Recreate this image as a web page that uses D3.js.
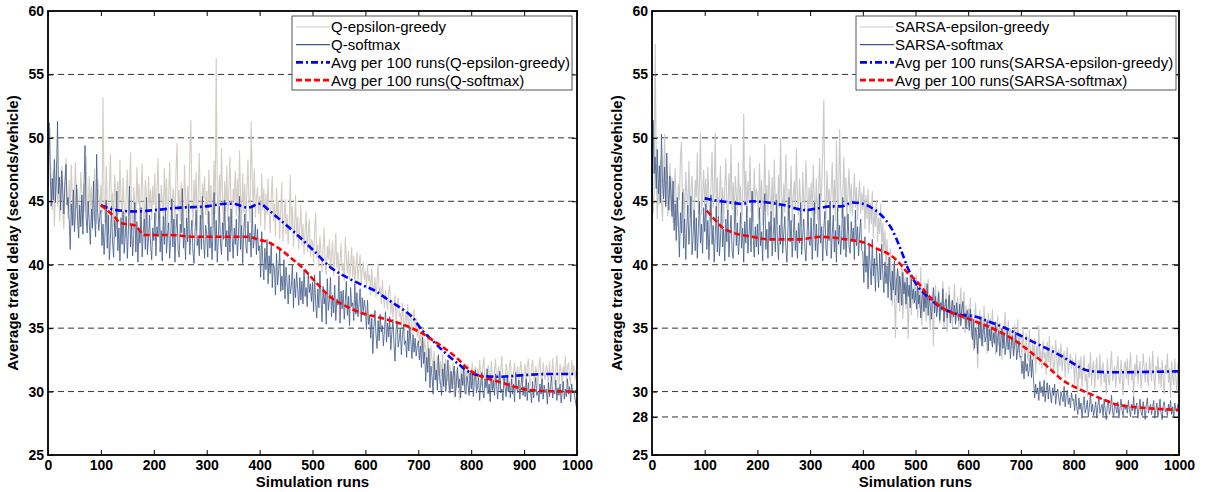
<!DOCTYPE html>
<html>
<head>
<meta charset="utf-8">
<script src="https://cdn.jsdelivr.net/npm/d3@7"></script>
<style>
  body { margin: 0; background: #fff; }
  svg { display: block; font-family: Arial, "Liberation Sans", sans-serif; }
</style>
</head>
<body>
<svg id="chart" width="1208" height="492"></svg>
<script>
// Runs sampled every 2 simulation runs (0..1000).
const runs = d3.range(0, 1001, 2);

// Left panel: Q-learning.
const qEpsGreedy = [
  47.2, 49.0, 50.8, 46.1, 44.3, 47.5, 43.0, 45.8, 48.2, 44.6, 46.9, 43.4, 45.1, 47.8, 44.0, 42.8, 46.3, 48.4, 45.0, 43.6,
  46.7, 44.2, 47.9, 45.4, 43.1, 45.9, 48.1, 44.5, 46.0, 42.9, 44.8, 47.3, 45.6, 43.5, 46.4, 44.1, 48.6, 45.2, 43.8, 47.0,
  44.4, 46.2, 42.7, 45.3, 47.6, 44.9, 43.2, 46.8, 45.5, 44.0,
  46.3, 44.1, 53.2, 45.0, 43.3, 47.8, 44.6, 42.5, 46.0, 48.7, 44.2, 45.7, 43.0, 47.1, 45.3, 42.8, 46.6, 44.0, 48.3, 45.1,
  43.6, 46.9, 44.4, 42.2, 45.8, 47.5, 43.9, 45.2, 48.9, 44.3, 42.7, 46.1, 45.0, 43.4, 47.7, 44.8, 46.4, 42.9, 45.6, 48.0,
  44.1, 43.2, 46.7, 45.4, 42.6, 47.0, 44.5, 45.9, 43.5, 46.2,
  44.7, 47.2, 43.1, 45.5, 48.4, 44.0, 42.5, 46.3, 45.1, 43.7, 47.6, 44.4, 46.8, 42.9, 45.2, 48.1, 44.6, 43.3, 46.0, 45.7,
  42.8, 47.4, 49.6, 44.2, 45.9, 43.4, 46.5, 44.9, 42.6, 47.9, 45.3, 43.8, 46.2, 44.1, 48.6, 51.4, 45.0, 43.0, 46.7, 44.3,
  47.3, 42.7, 45.6, 48.8, 44.5, 43.6, 46.4, 45.2, 47.0, 43.9,
  45.8, 43.2, 47.5, 44.6, 46.3, 42.9, 45.1, 48.2, 44.0, 56.3, 45.6, 43.5, 47.1, 44.8, 49.2, 45.3, 42.8, 46.6, 44.2, 47.8,
  43.4, 45.9, 48.5, 44.7, 42.6, 46.0, 45.0, 47.4, 43.8, 46.8, 44.3, 49.0, 45.5, 43.1, 47.2, 44.1, 46.4, 42.9, 45.7, 48.3,
  44.6, 43.3, 51.3, 46.9, 44.5, 47.6, 43.7, 45.2, 46.1, 44.0,
  45.4, 43.1, 47.2, 44.3, 46.0, 42.7, 45.6, 43.9, 46.8, 44.1, 42.5, 45.3, 47.0, 43.4, 44.8, 42.2, 46.1, 43.7, 45.0, 42.0,
  44.4, 46.5, 41.8, 43.6, 45.2, 42.4, 44.0, 41.6, 43.3, 47.1, 42.8, 44.6, 41.4, 43.0, 45.5, 42.1, 43.8, 41.2, 42.9, 44.7,
  41.5, 43.2, 40.8, 42.6, 44.2, 41.0, 42.4, 43.6, 40.6, 42.0,
  41.8, 40.2, 42.7, 44.1, 40.5, 41.6, 39.8, 42.3, 40.9, 39.4, 41.2, 42.9, 40.0, 39.2, 41.5, 40.4, 42.0, 39.6, 40.8, 41.9,
  39.1, 40.6, 42.5, 39.7, 41.0, 38.9, 40.3, 41.7, 39.5, 40.1, 38.7, 42.2, 40.5, 39.3, 41.1, 38.8, 40.0, 41.4, 39.0, 40.7,
  38.5, 39.8, 41.0, 38.6, 39.9, 40.8, 38.4, 39.6, 40.2, 38.8,
  39.5, 38.1, 40.0, 38.7, 39.2, 37.6, 39.7, 38.3, 37.9, 39.0, 37.4, 38.6, 40.1, 37.8, 38.2, 36.9, 38.8, 37.5, 36.6, 38.0,
  37.2, 36.4, 37.9, 38.4, 36.1, 37.3, 35.8, 36.9, 37.6, 35.5, 36.7, 37.4, 35.9, 36.2, 35.1, 37.0, 35.6, 34.8, 36.3, 35.4,
  36.9, 34.6, 35.7, 36.1, 34.5, 35.3, 36.5, 34.9, 35.8, 34.3,
  35.2, 33.8, 34.6, 33.1, 35.0, 32.7, 34.1, 33.4, 32.2, 34.4, 33.0, 31.8, 33.6, 32.5, 31.5, 33.2, 32.0, 30.9, 32.8, 31.7,
  30.6, 32.4, 31.2, 33.0, 30.3, 31.9, 32.6, 30.8, 31.4, 29.9, 32.1, 31.0, 30.5, 32.3, 29.5, 31.6, 30.2, 31.8, 30.7, 29.3,
  31.3, 32.0, 30.4, 31.1, 29.8, 31.7, 30.9, 32.2, 30.6, 31.5,
  31.0, 32.3, 30.5, 31.6, 32.0, 30.2, 31.8, 30.9, 32.5, 31.2, 30.4, 31.9, 32.7, 30.8, 31.3, 29.9, 32.1, 31.5, 30.6, 32.4,
  31.1, 30.3, 31.7, 32.6, 30.7, 31.4, 32.0, 30.1, 31.8, 32.8, 30.9, 31.2, 30.5, 32.2, 31.6, 30.0, 31.9, 32.5, 31.0, 30.6,
  31.5, 32.3, 30.8, 31.4, 32.0, 30.3, 31.7, 32.4, 31.1, 30.7,
  31.6, 32.2, 30.5, 31.9, 32.6, 31.0, 30.4, 31.8, 32.5, 31.3, 30.7, 32.0, 31.5, 30.2, 31.9, 32.7, 31.1, 30.6, 32.3, 31.4,
  30.9, 32.1, 31.7, 30.3, 32.4, 31.2, 30.8, 32.6, 31.5, 30.5, 31.8, 32.9, 31.0, 30.6, 32.2, 31.6, 30.4, 32.0, 31.3, 32.8,
  30.7, 31.9, 32.3, 31.1, 30.5, 32.5, 31.4, 32.1, 30.9, 31.7,
  31.2
];
const qSoftmax = [
  46.2, 51.2, 47.5, 44.6, 46.8, 45.1, 48.3, 44.9, 47.0, 51.3, 45.6, 46.9, 44.3, 47.4, 45.8, 44.0, 46.5, 47.9, 44.7, 45.3,
  43.6, 41.2, 44.8, 43.1, 45.9, 42.6, 44.2, 46.3, 43.4, 42.1, 44.7, 43.0, 45.5, 42.4, 46.1, 49.4, 43.8, 42.5, 45.0, 43.3,
  41.6, 44.4, 42.9, 46.6, 43.7, 42.2, 48.7, 44.1, 42.7, 43.9,
  44.3, 41.5, 43.2, 40.8, 42.6, 45.1, 41.3, 43.9, 40.4, 42.0, 44.6, 41.8, 40.6, 43.5, 42.2, 45.8, 41.1, 42.9, 40.3, 43.7,
  41.6, 44.2, 40.9, 42.4, 43.8, 40.5, 42.7, 46.2, 41.4, 43.1, 40.7, 42.3, 44.9, 41.0, 43.4, 40.2, 42.8, 41.7, 44.5, 40.6,
  42.5, 43.6, 41.2, 45.3, 40.8, 42.1, 43.9, 41.5, 40.4, 42.9,
  41.9, 44.1, 40.7, 43.0, 42.2, 45.6, 41.0, 42.7, 40.3, 43.8, 41.6, 44.5, 40.9, 42.4, 43.3, 40.5, 42.0, 45.2, 41.4, 43.6,
  40.2, 42.8, 44.0, 41.1, 40.6, 43.2, 42.5, 46.0, 41.3, 42.9, 40.4, 43.7, 41.8, 44.8, 40.8, 42.3, 43.5, 41.0, 40.1, 42.6,
  44.3, 41.5, 42.1, 40.7, 43.9, 41.2, 45.4, 42.0, 40.5, 43.1,
  42.4, 40.6, 44.2, 41.3, 43.0, 40.4, 42.8, 45.7, 41.1, 43.5, 40.2, 42.1, 44.6, 41.7, 40.8, 43.3, 42.0, 45.1, 41.4, 42.7,
  40.3, 43.8, 41.0, 44.4, 42.3, 40.5, 42.9, 41.6, 43.6, 40.7, 42.2, 45.4, 41.2, 43.1, 40.1, 42.6, 44.0, 41.5, 40.9, 43.4,
  41.8, 42.5, 40.6, 44.7, 41.3, 42.0, 43.2, 40.8, 42.8, 41.1,
  41.5, 39.0, 42.6, 40.2, 38.8, 41.3, 39.6, 42.0, 38.5, 40.7, 39.3, 41.8, 38.2, 40.1, 39.7, 37.6, 40.9, 38.4, 39.5, 41.2,
  37.9, 39.1, 38.0, 40.4, 37.3, 39.8, 38.6, 36.9, 39.2, 37.7, 38.3, 40.0, 36.6, 38.9, 37.4, 39.4, 38.1, 36.8, 39.0, 37.2,
  38.7, 36.9, 39.6, 37.5, 38.2, 36.7, 39.3, 37.8, 38.5, 37.1,
  38.6, 36.3, 39.2, 37.0, 35.8, 38.1, 36.6, 39.5, 37.4, 35.5, 38.3, 36.9, 37.7, 35.3, 38.9, 36.4, 37.2, 39.0, 35.9, 37.6,
  36.2, 38.4, 35.6, 37.3, 36.8, 39.1, 35.4, 37.9, 36.5, 38.0, 35.7, 37.1, 38.7, 36.0, 37.5, 35.2, 38.2, 36.7, 37.0, 35.6,
  38.5, 36.1, 37.8, 35.9, 36.9, 38.1, 35.5, 37.4, 36.3, 37.2,
  36.5, 34.9, 37.2, 35.3, 36.0, 34.2, 35.8, 33.0, 35.1, 36.4, 34.5, 33.4, 35.6, 34.0, 36.1, 34.7, 35.2, 33.6, 34.8, 36.3,
  33.9, 35.4, 34.3, 35.9, 33.3, 34.6, 35.7, 33.8, 32.4, 34.9, 35.5, 33.5, 34.1, 35.0, 32.9, 34.4, 35.3, 33.7, 34.0, 32.7,
  34.8, 33.2, 35.1, 33.9, 32.6, 34.5, 33.1, 34.2, 32.8, 33.6,
  34.0, 32.5, 33.6, 31.9, 34.3, 32.2, 33.1, 30.8, 32.7, 31.5, 33.4, 30.3, 32.0, 31.2, 29.8, 32.4, 30.9, 31.7, 30.1, 32.9,
  31.4, 30.6, 29.7, 31.8, 30.4, 32.2, 30.0, 31.1, 32.5, 30.7, 29.9, 31.6, 30.2, 31.3, 32.0, 29.6, 30.8, 31.9, 30.3, 31.0,
  29.5, 31.4, 30.5, 32.1, 30.1, 29.8, 31.2, 30.6, 29.7, 31.5,
  30.2, 31.3, 29.6, 30.8, 31.7, 29.9, 30.4, 31.1, 29.3, 30.7, 31.5, 30.0, 29.5, 31.0, 30.3, 31.8, 29.8, 30.6, 29.2, 31.2,
  30.1, 30.9, 29.7, 31.4, 30.5, 29.4, 30.8, 31.6, 29.9, 30.2, 29.3, 31.1, 30.4, 29.6, 31.3, 30.0, 30.7, 29.5, 31.0, 29.8,
  30.6, 29.2, 31.5, 30.3, 29.9, 30.9, 29.4, 30.5, 31.2, 29.7,
  30.4, 29.6, 31.0, 29.3, 30.7, 29.9, 30.2, 29.1, 30.8, 29.5, 30.3, 31.1, 29.7, 30.0, 29.2, 30.6, 29.8, 31.0, 29.4, 30.5,
  29.9, 30.2, 29.0, 30.7, 29.6, 30.4, 31.2, 29.5, 30.1, 29.8, 30.9, 29.3, 30.3, 29.7, 30.6, 29.1, 30.0, 30.8, 29.4, 30.2,
  29.6, 31.0, 29.8, 30.4, 29.2, 30.6, 29.9, 30.1, 29.5, 29.0,
  28.5
];
// [run, value] points of the 100-run moving averages.
const qEpsAvg = [
  [100, 44.7], [130, 44.3], [165, 44.2], [200, 44.3], [250, 44.5], [300, 44.6], [335, 44.8], [350, 44.8],
  [378, 44.5], [400, 44.8], [420, 44.2], [440, 43.5], [470, 42.4], [500, 41.2], [537, 39.7], [565, 39.0],
  [594, 38.4], [620, 37.9], [644, 37.2], [670, 36.5], [688, 35.9], [707, 34.85], [730, 33.9], [751, 33.04],
  [775, 32.2], [801, 31.44], [830, 31.2], [852, 31.17], [900, 31.3], [940, 31.38], [1000, 31.38]
];
const qSoftAvg = [
  [100, 44.7], [120, 44.0], [139, 43.26], [164, 43.1], [183, 42.34], [233, 42.34], [277, 42.2], [320, 42.2],
  [378, 42.2], [397, 42.0], [420, 41.7], [441, 41.16], [460, 40.5], [479, 39.85], [500, 38.9], [537, 37.35],
  [565, 36.7], [594, 36.17], [620, 35.9], [644, 35.64], [670, 35.3], [688, 34.99], [707, 34.6], [726, 34.07],
  [750, 33.4], [770, 32.75], [801, 31.57], [825, 31.1], [852, 30.78], [880, 30.4], [909, 30.13], [950, 30.03],
  [1000, 30.0]
];

// Right panel: SARSA.
const sEpsGreedy = [
  46.8, 44.0, 45.5, 57.4, 47.9, 43.6, 46.2, 44.8, 48.3, 45.0, 43.4, 47.1, 50.3, 44.5, 46.6, 43.8, 45.7, 48.0, 44.2, 46.9,
  43.3, 45.2, 47.6, 44.7, 43.0, 46.4, 45.1, 48.5, 49.7, 44.3, 46.0, 43.5, 47.3, 45.6, 44.1, 48.2, 43.7, 45.9, 47.0, 44.4,
  43.2, 46.7, 45.3, 48.8, 44.0, 46.1, 50.4, 43.9, 45.4, 47.5,
  44.6, 46.8, 43.8, 47.7, 45.2, 43.4, 46.3, 48.9, 44.5, 45.7, 50.4, 44.0, 46.9, 43.6, 45.4, 47.8, 44.2, 46.1, 43.3, 45.9,
  48.4, 44.7, 43.9, 47.2, 45.0, 49.5, 44.3, 46.5, 43.5, 47.0, 45.6, 43.8, 48.1, 44.9, 46.2, 43.2, 45.3, 51.9, 44.6, 47.4,
  43.7, 46.6, 45.1, 48.6, 44.1, 45.8, 43.4, 47.6, 44.8, 46.0,
  45.5, 43.6, 48.0, 44.4, 46.7, 43.1, 45.0, 49.5, 44.2, 46.3, 43.8, 47.5, 45.2, 44.0, 46.9, 43.4, 48.3, 44.7, 45.6, 43.2,
  47.1, 44.5, 50.0, 45.3, 43.7, 46.4, 44.1, 48.7, 45.8, 43.5, 46.0, 44.8, 47.8, 43.3, 45.4, 46.6, 44.3, 49.1, 45.0, 43.9,
  46.8, 44.6, 43.0, 47.3, 45.1, 44.2, 48.2, 45.7, 43.6, 46.1,
  44.4, 46.5, 43.8, 47.9, 45.2, 44.0, 46.8, 43.5, 45.6, 48.4, 44.7, 46.2, 49.0, 53.0, 45.3, 43.6, 47.4, 44.8, 46.0, 43.9,
  45.8, 48.1, 44.3, 46.7, 43.4, 49.8, 45.1, 44.2, 50.7, 46.3, 43.7, 45.5, 48.5, 44.6, 46.9, 43.2, 45.9, 47.6, 44.1, 46.4,
  43.8, 45.0, 47.2, 44.5, 46.1, 43.5, 45.4, 46.6, 44.0, 45.7,
  44.3, 46.2, 42.8, 45.5, 43.6, 46.0, 42.5, 44.9, 43.2, 45.8, 42.1, 44.4, 43.0, 45.1, 41.8, 43.7, 42.4, 44.8, 41.5, 43.3,
  40.9, 42.7, 39.8, 42.0, 40.4, 38.6, 41.3, 39.2, 36.8, 40.0, 37.5, 34.2, 38.9, 37.0, 39.5, 36.3, 38.2, 40.1, 35.7, 37.8,
  39.0, 36.5, 38.4, 34.1, 37.2, 39.3, 36.0, 38.0, 36.9, 38.7,
  37.4, 39.2, 35.8, 38.1, 36.6, 39.8, 35.2, 37.7, 36.3, 38.6, 35.5, 37.0, 38.9, 36.1, 34.8, 37.6, 36.9, 33.6, 37.3, 38.4,
  35.9, 36.8, 38.0, 35.3, 37.1, 36.4, 38.7, 35.0, 36.2, 37.8, 34.7, 36.9, 38.3, 35.6, 37.2, 35.1, 36.7, 38.5, 35.4, 36.0,
  37.5, 34.9, 36.6, 38.2, 35.7, 36.3, 37.9, 34.6, 36.8, 35.2,
  36.6, 35.0, 37.4, 34.3, 36.1, 33.2, 35.7, 37.0, 34.6, 31.8, 35.3, 36.4, 34.0, 35.9, 33.5, 36.8, 34.9, 35.5, 33.0, 36.2,
  34.4, 35.8, 33.7, 36.5, 34.1, 35.2, 32.9, 34.8, 36.0, 33.6, 35.4, 34.2, 32.5, 35.1, 33.9, 36.3, 34.5, 33.3, 35.6, 34.0,
  35.0, 33.4, 34.7, 32.8, 35.3, 34.1, 33.5, 35.7, 33.1, 34.6,
  34.3, 32.7, 35.0, 33.5, 31.9, 34.6, 33.0, 32.4, 34.9, 33.2, 31.6, 33.8, 32.5, 34.2, 31.4, 33.6, 32.8, 35.2, 32.1, 33.3,
  31.8, 34.0, 32.6, 33.1, 31.3, 33.9, 32.3, 34.4, 31.7, 32.9, 33.6, 31.5, 32.2, 34.1, 32.7, 31.2, 33.4, 32.0, 33.8, 31.6,
  32.5, 33.2, 31.1, 32.8, 33.5, 31.4, 32.3, 33.0, 31.8, 32.6,
  32.1, 30.6, 33.0, 31.3, 29.9, 32.5, 31.0, 32.8, 30.3, 31.7, 32.9, 30.8, 31.4, 29.6, 32.2, 31.1, 33.1, 30.5, 31.8, 32.4,
  30.2, 31.6, 32.7, 30.9, 31.2, 33.0, 30.4, 31.9, 32.3, 30.7, 31.5, 29.8, 32.6, 31.0, 30.5, 32.1, 33.2, 30.8, 31.4, 32.0,
  30.3, 31.7, 32.8, 31.1, 30.6, 32.5, 31.3, 29.7, 31.9, 32.4,
  31.0, 32.6, 30.5, 31.8, 33.1, 30.9, 31.5, 29.6, 32.2, 31.2, 32.9, 30.6, 31.7, 32.4, 30.2, 31.3, 33.0, 31.9, 30.7, 32.3,
  31.1, 30.4, 32.7, 31.6, 30.8, 33.2, 31.4, 30.1, 32.0, 31.5, 32.8, 30.6, 31.9, 30.3, 32.5, 31.0, 29.8, 32.1, 31.4, 33.0,
  30.7, 31.8, 29.5, 32.4, 31.2, 30.5, 32.6, 31.1, 29.9, 32.3,
  30.6
];
const sSoftmax = [
  45.0, 51.4, 47.2, 48.5, 46.0, 49.1, 45.6, 47.8, 44.9, 50.3, 46.4, 45.2, 47.7, 44.6, 48.8, 46.1, 44.3, 47.0, 45.5, 43.8,
  46.6, 42.7, 44.8, 41.9, 45.3, 43.4, 40.6, 44.1, 42.5, 45.7, 41.3, 43.6, 40.4, 42.9, 44.7, 41.6, 43.0, 45.4, 40.8, 42.2,
  44.3, 41.1, 43.7, 40.5, 42.8, 45.0, 41.7, 43.2, 40.9, 44.5,
  42.6, 44.8, 41.2, 43.5, 40.4, 42.9, 45.5, 41.6, 43.1, 40.2, 42.3, 44.6, 41.0, 43.8, 40.7, 42.1, 45.2, 41.4, 42.8, 40.3,
  43.6, 41.8, 44.3, 40.6, 42.5, 43.9, 41.1, 40.5, 42.7, 45.0, 41.5, 43.3, 40.8, 42.0, 44.1, 41.3, 42.9, 40.2, 43.4, 41.7,
  44.6, 40.9, 42.4, 43.7, 41.0, 45.8, 42.2, 40.6, 43.0, 41.4,
  43.2, 40.8, 44.5, 41.5, 42.6, 40.3, 43.9, 45.6, 41.2, 42.8, 40.5, 43.4, 41.9, 44.2, 40.7, 42.3, 43.7, 41.0, 45.1, 42.0,
  40.4, 43.1, 41.6, 44.7, 40.9, 42.5, 43.8, 41.3, 40.2, 42.9, 45.3, 41.8, 43.5, 40.6, 42.2, 44.0, 41.1, 42.7, 40.5, 43.3,
  41.7, 44.9, 40.8, 42.4, 43.6, 41.4, 40.3, 42.1, 44.4, 41.9,
  41.5, 43.7, 40.4, 42.6, 44.9, 41.1, 43.2, 40.6, 42.0, 45.6, 41.7, 43.0, 40.3, 42.8, 44.2, 41.3, 40.7, 43.5, 41.9, 45.0,
  40.5, 42.4, 43.9, 41.0, 42.7, 40.2, 44.5, 41.6, 43.1, 40.8, 42.3, 45.3, 41.2, 43.8, 40.6, 42.1, 44.0, 41.4, 40.9, 43.4,
  41.8, 42.9, 40.4, 44.3, 41.5, 43.0, 40.7, 42.5, 43.6, 41.1,
  41.0, 38.6, 42.2, 39.4, 40.7, 38.1, 41.5, 39.8, 38.4, 42.0, 39.1, 40.5, 37.9, 41.2, 39.6, 38.2, 40.9, 38.8, 41.6, 39.3,
  37.8, 40.2, 38.5, 39.9, 37.4, 40.6, 38.9, 37.2, 39.5, 38.0, 40.3, 37.6, 38.7, 39.7, 37.0, 39.1, 38.3, 36.8, 39.4, 37.7,
  38.6, 36.9, 39.0, 37.5, 38.4, 36.6, 38.9, 37.3, 38.1, 37.0,
  37.9, 36.5, 38.3, 36.9, 37.6, 35.8, 37.2, 38.0, 36.3, 37.7, 36.6, 38.5, 36.0, 37.4, 36.8, 35.7, 37.1, 38.2, 36.2, 37.5,
  35.9, 36.7, 37.8, 35.6, 37.0, 36.4, 38.1, 35.5, 36.9, 37.3, 35.8, 36.6, 37.6, 35.4, 36.3, 37.2, 35.9, 36.8, 35.3, 37.0,
  36.1, 35.6, 36.9, 35.2, 36.5, 37.1, 35.7, 36.2, 35.0, 36.4,
  36.0, 34.8, 36.5, 35.2, 34.1, 35.7, 33.4, 35.0, 34.5, 33.0, 35.4, 34.2, 35.9, 33.6, 34.7, 35.3, 33.9, 34.4, 35.6, 33.2,
  34.9, 34.0, 35.1, 33.5, 34.6, 33.8, 35.5, 33.1, 34.3, 34.8, 32.8, 34.1, 35.0, 33.4, 34.5, 32.9, 33.7, 34.9, 33.3, 34.2,
  32.6, 33.9, 34.4, 32.8, 33.6, 34.7, 32.5, 33.3, 34.0, 32.7,
  32.8, 31.4, 32.4, 31.0, 33.0, 31.6, 32.2, 31.2, 31.8, 32.9, 31.1, 32.5, 30.9, 29.5, 30.6, 29.8, 30.3, 29.3, 30.8, 29.9,
  30.4, 29.6, 30.9, 29.2, 30.1, 30.7, 29.4, 30.5, 29.8, 29.1, 30.3, 29.7, 30.6, 29.0, 29.9, 30.2, 29.4, 28.9, 30.0, 29.6,
  29.2, 30.4, 28.8, 29.7, 30.1, 29.0, 29.5, 28.7, 29.9, 29.3,
  29.4, 28.5, 29.8, 28.8, 28.2, 29.5, 28.6, 29.1, 27.9, 28.9, 29.6, 28.3, 28.7, 29.3, 28.0, 28.8, 29.9, 28.4, 29.0, 28.1,
  28.6, 29.2, 27.9, 28.9, 29.5, 28.3, 28.7, 29.0, 28.1, 29.4, 28.5, 27.8, 28.9, 29.3, 28.2, 28.6, 29.7, 28.4, 28.0, 29.1,
  28.8, 28.3, 29.2, 27.9, 28.7, 29.4, 28.5, 28.1, 29.0, 28.6,
  28.9, 28.3, 29.3, 28.6, 28.0, 29.0, 28.5, 29.6, 28.2, 28.8, 29.1, 27.9, 28.7, 29.4, 28.4, 28.1, 29.2, 28.6, 27.8, 28.9,
  29.5, 28.3, 28.7, 29.0, 28.2, 28.8, 29.3, 27.9, 28.5, 29.1, 28.0, 28.6, 29.4, 28.3, 27.8, 28.9, 29.2, 28.4, 28.7, 28.1,
  29.0, 28.5, 29.3, 28.2, 28.8, 27.9, 29.1, 28.6, 28.4, 29.0,
  28.7
];
const sEpsAvg = [
  [100, 45.23], [130, 45.0], [150, 44.9], [171, 44.79], [189, 45.0], [220, 44.9], [250, 44.7], [291, 44.3],
  [315, 44.45], [340, 44.6], [360, 44.6], [380, 44.9], [400, 44.8], [418, 44.45], [440, 43.7], [456, 42.74],
  [472, 41.2], [487, 39.58], [501, 38.5], [525, 37.4], [552, 36.55], [580, 36.1], [615, 35.9], [640, 35.5],
  [665, 35.1], [700, 34.4], [729, 33.8], [779, 32.75], [800, 32.2], [823, 31.7], [850, 31.55], [880, 31.52],
  [940, 31.55], [1000, 31.6]
];
const sSoftAvg = [
  [104, 44.26], [118, 43.6], [132, 43.0], [158, 42.47], [190, 42.2], [221, 42.0], [278, 42.0], [321, 42.2],
  [368, 42.0], [404, 41.73], [430, 41.2], [452, 40.77], [470, 40.1], [483, 39.45], [503, 38.66], [520, 37.8],
  [539, 36.96], [564, 36.3], [590, 35.9], [615, 35.5], [640, 35.1], [665, 34.6], [700, 33.7], [729, 32.75],
  [755, 31.8], [779, 30.9], [805, 30.3], [829, 29.86], [855, 29.4], [880, 29.0], [910, 28.8], [943, 28.68],
  [1000, 28.55]
];

// Ticks.
const xTicks = [0, 100, 200, 300, 400, 500, 600, 700, 800, 900, 1000];
const yTicksLeft = [25, 30, 35, 40, 45, 50, 55, 60];
const yTicksRight = [25, 28, 30, 35, 40, 45, 50, 55, 60];
const gridLeft = [30, 35, 40, 45, 50, 55];
const gridRight = [28, 30, 35, 40, 45, 50, 55];

const svg = d3.select('#chart');

function panel(opts) {
  const x = d3.scaleLinear().domain([0, 1000]).range([opts.x0, opts.x1]);
  const y = d3.scaleLinear().domain([25, 60]).range([455, 11]);
  const g = svg.append('g');

  const clipId = 'clip-' + opts.id;
  g.append('clipPath').attr('id', clipId)
    .append('rect')
    .attr('x', opts.x0).attr('y', 11)
    .attr('width', opts.x1 - opts.x0).attr('height', 444);

  // Grid lines.
  g.selectAll('.grid')
    .data(opts.grid)
    .join('line')
    .attr('x1', opts.x0).attr('x2', opts.x1)
    .attr('y1', d => y(d)).attr('y2', d => y(d))
    .attr('stroke', '#333')
    .attr('stroke-width', 1)
    .attr('stroke-dasharray', '6,4');

  const plot = g.append('g').attr('clip-path', `url(#${clipId})`);

  const noisy = d3.line().x((d, i) => x(runs[i])).y(d => y(d));
  const smooth = d3.line().x(d => x(d[0])).y(d => y(d[1])).curve(d3.curveMonotoneX);

  opts.series.forEach(s => {
    plot.append('path')
      .datum(s.values)
      .attr('fill', 'none')
      .attr('stroke', s.color)
      .attr('stroke-width', s.width)
      .attr('d', noisy);
  });

  opts.avgs.forEach(s => {
    plot.append('path')
      .datum(s.values)
      .attr('fill', 'none')
      .attr('stroke', s.color)
      .attr('stroke-width', 2.6)
      .attr('stroke-dasharray', s.dash)
      .attr('d', smooth);
  });

  // Axes with inward ticks (all four sides).
  const bottom = g.append('g').attr('transform', 'translate(0,455)')
    .call(d3.axisBottom(x).tickValues(xTicks).tickFormat(d3.format('d'))
      .tickSizeInner(-5).tickSizeOuter(0).tickPadding(5));
  const left = g.append('g').attr('transform', `translate(${opts.x0},0)`)
    .call(d3.axisLeft(y).tickValues(opts.yTicks).tickSizeInner(-5).tickSizeOuter(0).tickPadding(4));
  g.append('g').attr('transform', 'translate(0,11)')
    .call(d3.axisTop(x).tickValues(xTicks).tickSizeInner(-5).tickSizeOuter(0).tickFormat(''));
  g.append('g').attr('transform', `translate(${opts.x1},0)`)
    .call(d3.axisRight(y).tickValues(opts.yTicks).tickSizeInner(-5).tickSizeOuter(0).tickFormat(''));

  g.selectAll('.domain').remove();
  g.selectAll('.tick line').attr('stroke', '#000').attr('stroke-width', 1);
  [bottom, left].forEach(a => a.selectAll('text')
    .attr('fill', '#000')
    .style('font-size', '14px')
    .style('font-weight', 'bold')
    .style('font-family', 'Arial, "Liberation Sans", sans-serif'));

  g.append('rect')
    .attr('x', opts.x0).attr('y', 11)
    .attr('width', opts.x1 - opts.x0).attr('height', 444)
    .attr('fill', 'none')
    .attr('stroke', '#000')
    .attr('stroke-width', 1.8);

  // Axis titles.
  g.append('text')
    .attr('x', (opts.x0 + opts.x1) / 2)
    .attr('y', 487)
    .attr('text-anchor', 'middle')
    .style('font-size', '15px')
    .style('font-weight', 'bold')
    .text('Simulation runs');
  g.append('text')
    .attr('transform', `translate(${opts.x0 - 30},233) rotate(-90)`)
    .attr('text-anchor', 'middle')
    .style('font-size', '15px')
    .style('font-weight', 'bold')
    .text('Average travel delay (seconds/vehicle)');

  // Legend.
  const lg = g.append('g').attr('transform', `translate(${opts.legend.x},${opts.legend.y})`);
  lg.append('rect')
    .attr('width', opts.legend.w).attr('height', 74)
    .attr('fill', '#fff')
    .attr('stroke', '#555')
    .attr('stroke-width', 1);
  const entries = opts.series.map(s => ({ label: s.label, color: s.color, width: 1.2, dash: null }))
    .concat(opts.avgs.map(s => ({ label: s.label, color: s.color, width: 2.6, dash: s.dash })));
  const row = lg.selectAll('.entry')
    .data(entries)
    .join('g')
    .attr('transform', (d, i) => `translate(0,${11 + i * 17.7})`);
  row.append('line')
    .attr('x1', 4).attr('x2', 38)
    .attr('stroke', d => d.color)
    .attr('stroke-width', d => d.width)
    .attr('stroke-dasharray', d => d.dash);
  row.append('text')
    .attr('x', 39)
    .attr('dy', '0.36em')
    .style('font-size', '15px')
    .text(d => d.label);
}

panel({
  id: 'q',
  x0: 48, x1: 577,
  yTicks: yTicksLeft,
  grid: gridLeft,
  legend: { x: 292, y: 16, w: 280 },
  series: [
    { label: 'Q-epsilon-greedy', values: qEpsGreedy, color: '#d2cdc5', width: 1.1 },
    { label: 'Q-softmax', values: qSoftmax, color: '#3d5888', width: 0.8 }
  ],
  avgs: [
    { label: 'Avg per 100 runs(Q-epsilon-greedy)', values: qEpsAvg, color: '#0000ff', dash: '7,3,2,3' },
    { label: 'Avg per 100 runs(Q-softmax)', values: qSoftAvg, color: '#ff0000', dash: '6,3' }
  ]
});

panel({
  id: 's',
  x0: 652, x1: 1179,
  yTicks: yTicksRight,
  grid: gridRight,
  legend: { x: 856, y: 16, w: 320 },
  series: [
    { label: 'SARSA-epsilon-greedy', values: sEpsGreedy, color: '#c9c9c9', width: 1.1 },
    { label: 'SARSA-softmax', values: sSoftmax, color: '#3d5888', width: 0.8 }
  ],
  avgs: [
    { label: 'Avg per 100 runs(SARSA-epsilon-greedy)', values: sEpsAvg, color: '#0000ff', dash: '7,3,2,3' },
    { label: 'Avg per 100 runs(SARSA-softmax)', values: sSoftAvg, color: '#ff0000', dash: '6,3' }
  ]
});
</script>
</body>
</html>
